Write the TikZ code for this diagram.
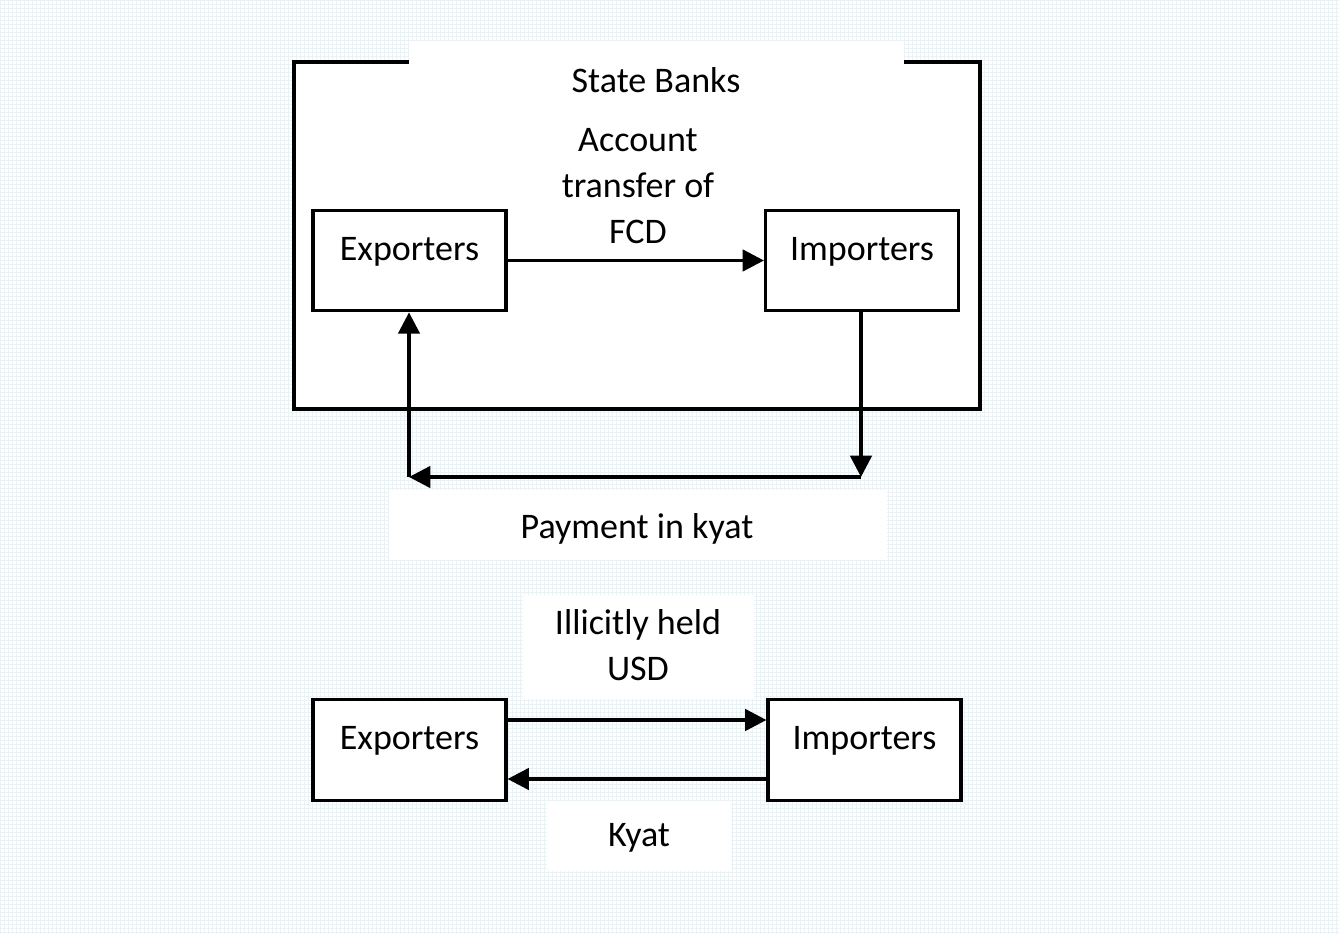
\documentclass[tikz,border=0pt]{standalone}
\usepackage{fontspec}
\setmainfont{Carlito}
\usetikzlibrary{arrows.meta,calc}
\definecolor{gridc}{RGB}{230,244,248}
\tikzset{
  px/.style={x=0.75pt,y=-0.75pt},
  lbl/.style={font=\fontsize{27pt}{34.5pt}\selectfont, align=center, inner sep=0pt},
  whitebox/.style={fill=white, draw=none},
  boxed/.style={draw=black, line width=2.3pt, fill=white, minimum width=144.75pt, minimum height=75.5pt, inner sep=0pt},
  frame/.style={draw=black, line width=2.6pt, fill=white},
  arr/.style={draw=black, line width=2.6pt, -{Triangle[length=16pt,width=16pt]}}
}
\begin{document}
\begin{tikzpicture}[px]
\useasboundingbox (0,0) rectangle (1339,934);
% background grid
\fill[white] (0,0) rectangle (1339,934);
\draw[gridc, line width=0.35pt, step=3pt] (0,0) grid (1339,934);
% State Banks frame
\draw[frame] (294,62) rectangle (980,409);
\fill[whitebox] (409,41) rectangle (904,100);
\node[lbl] (sb) at (656,80) {State Banks};
\node[lbl] (acc) at (638,186) {Account\\transfer of\\FCD};
% top boxes
\node[boxed] (ex1) at (409.5,260.5) {};
\node[boxed] (im1) at (862,260.5) {};
\node[lbl] (ex1t) at ($(ex1.center)+(0,-9)$) {Exporters};
\node[lbl] (im1t) at ($(im1.center)+(0,-9)$) {Importers};
\draw[arr] (ex1.east) -- (im1.west);
% payment loop
\coordinate (cr) at (861,477);
\coordinate (cl) at (409,477);
\draw[arr] (im1.south -| cr) -- (cr);
\draw[arr] (cr) -- (cl);
\draw[arr] (cl) -- (ex1.south -| cl);
\fill[whitebox] (389,490) rectangle (887,560);
\node[lbl] (pay) at (637,529) {Payment in kyat};
% illicit
\fill[whitebox] (523,595) rectangle (754,699);
\node[lbl] (ill) at (638,645) {Illicitly held\\USD};
% bottom boxes
\node[boxed] (ex2) at (409.5,750) {};
\node[boxed] (im2) at (864.5,750) {};
\node[lbl] (ex2t) at ($(ex2.center)+(0,-9)$) {Exporters};
\node[lbl] (im2t) at ($(im2.center)+(0,-9)$) {Importers};
\coordinate (u) at (0,720);
\coordinate (d) at (0,779);
\draw[arr] (ex2.east |- u) -- (im2.west |- u);
\draw[arr] (im2.west |- d) -- (ex2.east |- d);
\fill[whitebox] (547,801) rectangle (731,871);
\node[lbl] (kyat) at (639,838) {Kyat};
\end{tikzpicture}
\end{document}
